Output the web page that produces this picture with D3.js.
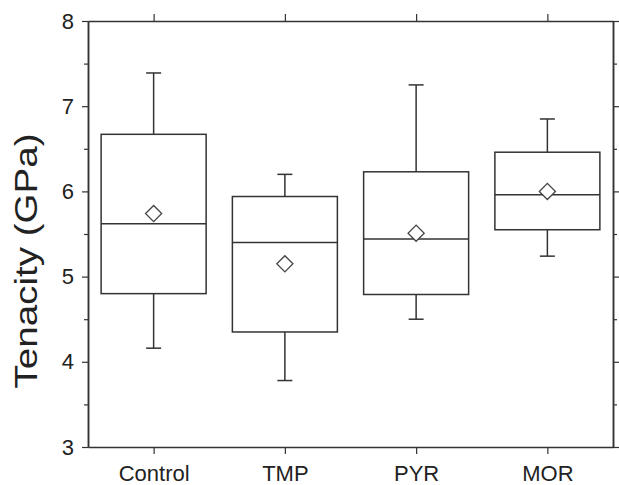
<!DOCTYPE html>
<html>
<head>
<meta charset="utf-8">
<script src="https://cdn.jsdelivr.net/npm/d3@7"></script>
<style>
  body { margin: 0; background: #fff; }
  svg { display: block; font-family: "Liberation Sans", Arial, sans-serif; }
  .box, .whisker, .cap, .median { stroke: #333; stroke-width: 1.5; }
</style>
</head>
<body>
<svg id="chart" width="619" height="485"></svg>
<script>

var categories = ['Control', 'TMP', 'PYR', 'MOR'];
var whiskerLow = [4.16, 3.78, 4.50, 5.24];
var q1 = [4.80, 4.35, 4.79, 5.55];
var median = [5.62, 5.40, 5.44, 5.96];
var q3 = [6.67, 5.94, 6.23, 6.46];
var whiskerHigh = [7.39, 6.20, 7.25, 6.85];
var mean = [5.74, 5.15, 5.51, 6.00];
var yTicks = [3, 4, 5, 6, 7, 8];

var svg = d3.select('#chart'),
    plotLeft = 88, plotRight = 613, plotTop = 21, plotBottom = 447;

var x = d3.scalePoint()
      .domain(categories)
      .range([plotLeft, plotRight])
      .padding(0.5),
    y = d3.scaleLinear()
      .domain([3, 8])
      .range([plotBottom, plotTop]),
    boxWidth = x.step() * 0.8,
    capWidth = 15;

var data = categories.map(function(c, i) {
  return { name: c, lo: whiskerLow[i], q1: q1[i], med: median[i],
           q3: q3[i], hi: whiskerHigh[i], mean: mean[i] };
});

// axes: major ticks outside, minor ticks at half units
function styleAxis(g) {
  g.select('.domain').attr('stroke', '#333').attr('stroke-width', 1.5);
  g.selectAll('.tick line').attr('stroke', '#333').attr('stroke-width', 1.2);
  g.selectAll('.tick text').attr('fill', '#222').attr('font-size', 22);
}

var minor = d3.range(3.5, 8, 1);

svg.append('g')
    .attr('transform', 'translate(' + plotLeft + ',0)')
    .call(d3.axisLeft(y).tickValues(yTicks).tickFormat(d3.format('d')).tickSize(6).tickPadding(8).tickSizeOuter(0))
    .call(styleAxis);
svg.append('g')
    .attr('transform', 'translate(' + plotLeft + ',0)')
    .call(d3.axisLeft(y).tickValues(minor).tickSize(4).tickFormat('').tickSizeOuter(0))
    .call(styleAxis);

svg.append('g')
    .attr('transform', 'translate(' + plotRight + ',0)')
    .call(d3.axisRight(y).tickValues(yTicks).tickSize(6).tickFormat('').tickSizeOuter(0))
    .call(styleAxis);
svg.append('g')
    .attr('transform', 'translate(' + plotRight + ',0)')
    .call(d3.axisRight(y).tickValues(minor).tickSize(4).tickFormat('').tickSizeOuter(0))
    .call(styleAxis);

svg.append('g')
    .attr('transform', 'translate(0,' + plotBottom + ')')
    .call(d3.axisBottom(x).tickSize(7).tickPadding(11).tickSizeOuter(0))
    .call(styleAxis);
svg.append('g')
    .attr('transform', 'translate(0,' + plotTop + ')')
    .call(d3.axisTop(x).tickSize(7).tickFormat('').tickSizeOuter(0))
    .call(styleAxis);

// y title
svg.append('text')
    .attr('transform', 'translate(37,261) rotate(-90)')
    .attr('text-anchor', 'middle')
    .attr('font-size', 31)
    .attr('textLength', 255)
    .attr('lengthAdjust', 'spacingAndGlyphs')
    .attr('fill', '#222')
    .text('Tenacity (GPa)');

var g = svg.selectAll('.group')
    .data(data)
  .enter().append('g')
    .attr('class', 'group');

g.append('line')
    .attr('class', 'whisker')
    .attr('x1', function(d) { return x(d.name); })
    .attr('x2', function(d) { return x(d.name); })
    .attr('y1', function(d) { return y(d.q3); })
    .attr('y2', function(d) { return y(d.hi); });

g.append('line')
    .attr('class', 'whisker')
    .attr('x1', function(d) { return x(d.name); })
    .attr('x2', function(d) { return x(d.name); })
    .attr('y1', function(d) { return y(d.q1); })
    .attr('y2', function(d) { return y(d.lo); });

['hi', 'lo'].forEach(function(k) {
  g.append('line')
      .attr('class', 'cap')
      .attr('x1', function(d) { return x(d.name) - capWidth / 2; })
      .attr('x2', function(d) { return x(d.name) + capWidth / 2; })
      .attr('y1', function(d) { return y(d[k]); })
      .attr('y2', function(d) { return y(d[k]); });
});

g.append('rect')
    .attr('class', 'box')
    .attr('fill', 'none')
    .attr('x', function(d) { return x(d.name) - boxWidth / 2; })
    .attr('width', boxWidth)
    .attr('y', function(d) { return y(d.q3); })
    .attr('height', function(d) { return y(d.q1) - y(d.q3); });

g.append('line')
    .attr('class', 'median')
    .attr('x1', function(d) { return x(d.name) - boxWidth / 2; })
    .attr('x2', function(d) { return x(d.name) + boxWidth / 2; })
    .attr('y1', function(d) { return y(d.med); })
    .attr('y2', function(d) { return y(d.med); });

g.append('path')
    .attr('d', d3.symbol().type(d3.symbolSquare).size(130))
    .attr('transform', function(d) { return 'translate(' + x(d.name) + ',' + y(d.mean) + ') rotate(45)'; })
    .attr('fill', '#fff')
    .attr('stroke', '#444')
    .attr('stroke-width', 1.3);

</script>
</body>
</html>
